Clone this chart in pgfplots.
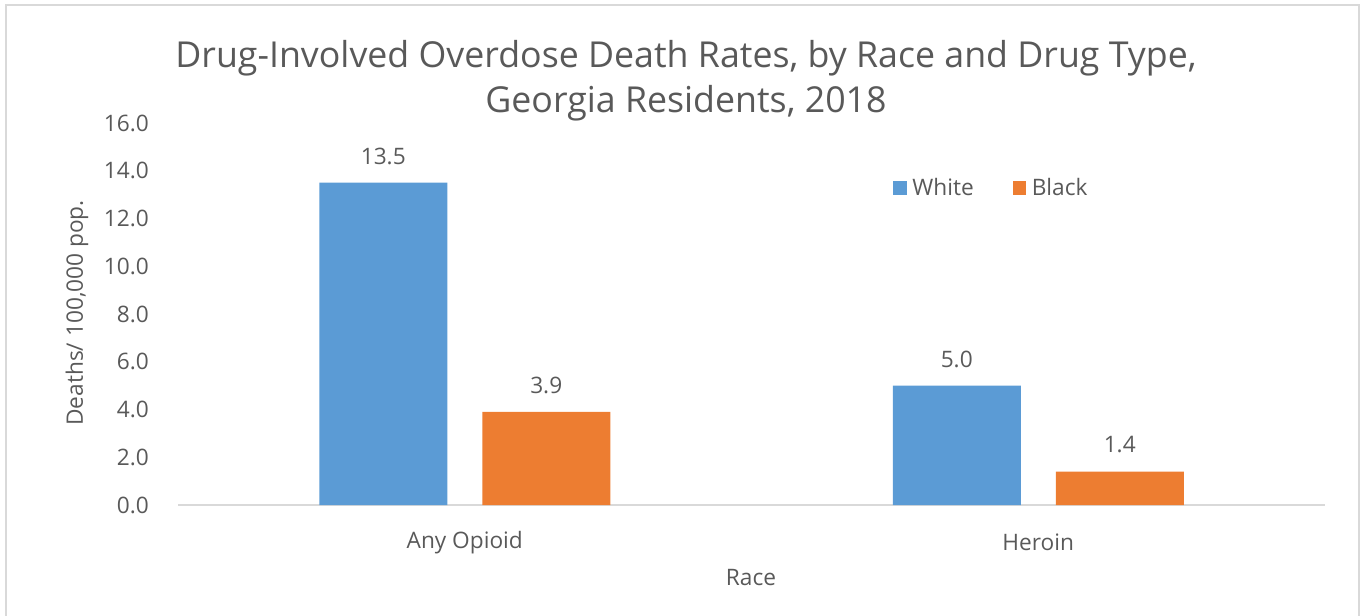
\documentclass[border=0pt]{standalone}
\usepackage{pgfplots}
\pgfplotsset{compat=1.18}
\usepackage{fontspec}
\setmainfont{Open Sans}
\definecolor{cblue}{HTML}{5B9BD5}
\definecolor{corange}{HTML}{ED7D31}
\definecolor{ctext}{HTML}{595959}
\definecolor{cgrid}{HTML}{D9D9D9}
\newcommand{\tickfont}{\fontsize{17}{20}\selectfont}
\begin{document}
\begin{tikzpicture}[x=0.75pt,y=0.75pt]
\useasboundingbox (0,0) rectangle (1364,615);
\draw[cgrid, line width=1.5pt] (6,-5) -- (6,610) -- (1359,610) -- (1359,-5);
\node[ctext, font=\fontsize{26.8}{34}\selectfont, align=center] at (686,534.5)
  {Drug-Involved Overdose Death Rates, by Race and Drug Type,\\Georgia Residents, 2018};
\begin{axis}[
  at={(133.5pt,82.5pt)}, anchor=south west,
  scale only axis, width=860.25pt, height=286.5pt,
  xmin=-0.5, xmax=1.5, ymin=0, ymax=16,
  ybar=26.25pt, bar width=96pt,
  xtick={0,1}, xticklabels={Any Opioid, Heroin},
  ytick={0,2,...,16},
  yticklabel={\pgfmathprintnumber[fixed,fixed zerofill,precision=1]{\tick}},
  axis lines=left, axis line style={-},
  x axis line style={cgrid, line width=1.5pt},
  y axis line style={draw=none},
  tick style={draw=none},
  every tick label/.append style={font=\tickfont, text=ctext},
  /pgf/number format/assume math mode=true,
  xticklabel style={anchor=center, yshift=-26pt},
  yticklabel style={anchor=east, inner sep=0pt, xshift=-19.5pt},
  xlabel={Race}, ylabel={Deaths/ 100,000 pop.},
  label style={font=\tickfont, text=ctext},
  xlabel style={at={(axis description cs:0.4996,-0.191)}, anchor=center},
  ylabel style={at={(axis description cs:-0.088,0.503)}, anchor=center},
  nodes near coords,
  nodes near coords style={font=\tickfont, text=ctext, anchor=center, yshift=20pt,
    /pgf/number format/.cd, fixed, fixed zerofill, precision=1, assume math mode=true},
  legend style={at={(axis description cs:0.62,0.83)}, anchor=west, draw=none, fill=none,
    legend columns=2, font=\tickfont, text=ctext,
    /tikz/every even column/.append style={column sep=27.25pt}},
  legend image code/.code={\fill[#1] (0pt,-5pt) rectangle (10pt,5pt); \path (12.25pt,0pt);},
  clip=false,
]
\addplot[fill=cblue, draw=none] coordinates {(0,13.5) (1,5.0)};
\addplot[fill=corange, draw=none] coordinates {(0,3.9) (1,1.4)};
\legend{White, Black}
\end{axis}
\end{tikzpicture}
\end{document}
